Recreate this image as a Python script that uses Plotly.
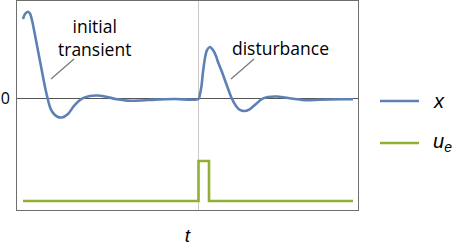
import plotly.graph_objects as go

# initial transient + disturbance response of x
t_x = [0.0, 0.2, 0.5, 0.7, 0.9, 1.2, 1.5, 1.8, 2.1, 2.4, 2.7, 3.0, 3.4, 3.9, 4.5, 5.1, 5.9, 6.7, 7.4, 8.2,
       9.4, 10.4, 11.7, 13.2, 15.2, 17.55, 17.7, 17.85, 18.0, 18.2, 18.4, 18.7, 19.0, 19.3, 19.5, 19.9,
       20.37, 20.87, 21.3, 21.7, 22.2, 22.7, 23.3, 23.87, 24.5, 25.37, 26.2, 27.2, 28.2, 29.7, 31.7, 33.0]
x_vals = [0.914, 0.971, 0.998, 0.975, 0.90, 0.73, 0.55, 0.37, 0.19, 0.03, -0.10, -0.165, -0.207, -0.218,
          -0.178, -0.086, -0.002, 0.029, 0.034, 0.023, -0.009, -0.024, -0.023, -0.013, -0.006, -0.006,
          0.052, 0.144, 0.305, 0.466, 0.557, 0.592, 0.557, 0.489, 0.42, 0.305, 0.155, 0.002, -0.086,
          -0.132, -0.144, -0.121, -0.063, -0.006, 0.017, 0.023, 0.011, -0.006, -0.02, -0.015, -0.009, -0.008]

# disturbance input u_e (drawn offset below)
t_u = [0.0, 17.55, 17.55, 18.6, 18.6, 33.0]
u_vals = [-1.178, -1.178, -0.718, -0.718, -1.178, -1.178]

disturbance_time = 17.55

# callout labels
label_text = ["initial<br>transient", "disturbance"]
label_t = [7.1, 25.75]
label_y = [0.705, 0.575]
pointer_t0 = [2.8, 20.8]
pointer_y0 = [0.224, 0.224]
pointer_t1 = [5.1, 23.1]
pointer_y1 = [0.454, 0.454]

BLUE = "#5E81B5"
GREEN = "#8FB032"
TEXT_FONT = "Open Sans"

fig = go.Figure()
fig.add_trace(go.Scatter(x=t_x, y=x_vals, mode="lines", name="x",
                         line=dict(color=BLUE, width=2.6, shape="spline", smoothing=0.8),
                         showlegend=False))
fig.add_trace(go.Scatter(x=t_u, y=u_vals, mode="lines", name="u_e",
                         line=dict(color=GREEN, width=2.6), showlegend=False))

shapes = []
for a, b, c, d in zip(pointer_t0, pointer_y0, pointer_t1, pointer_y1):
    shapes.append(dict(type="line", xref="x", yref="y", x0=a, y0=b, x1=c, y1=d,
                       line=dict(color="#7a7a7a", width=1.3)))
# manual legend
leg_y = [0.5215, 0.3206]
leg_col = [BLUE, GREEN]
leg_txt = ["<i>x</i>", "<i>u<sub>e</sub></i>"]
for yy, cc in zip(leg_y, leg_col):
    shapes.append(dict(type="line", xref="paper", yref="paper", x0=1.0645, x1=1.179, y0=yy, y1=yy,
                       line=dict(color=cc, width=2.6)))

annotations = []
for txt, tt, yy in zip(label_text, label_t, label_y):
    annotations.append(dict(x=tt, y=yy, xref="x", yref="y", text=txt, showarrow=False,
                            font=dict(family=TEXT_FONT, size=17.5, color="black"),
                            xanchor="center", yanchor="middle"))
for yy, txt in zip(leg_y, leg_txt):
    annotations.append(dict(x=1.213, y=yy, xref="paper", yref="paper", text=txt, showarrow=False,
                            font=dict(family="Liberation Sans", size=20, color="black"),
                            xanchor="left", yanchor="middle"))

fig.update_layout(
    width=466, height=248,
    margin=dict(l=17, r=108, t=1, b=38),
    plot_bgcolor="white", paper_bgcolor="white",
    shapes=shapes, annotations=annotations,
    xaxis=dict(range=[-0.6, 33.5], tickvals=[disturbance_time], showticklabels=False,
               showgrid=True, gridcolor="#c8c8c8", gridwidth=1, zeroline=False,
               showline=True, mirror=True, linecolor="#6e6e6e", linewidth=1, ticks="",
               automargin=False,
               title=dict(text="<i>t</i>", font=dict(family="Liberation Sans", size=19, color="black"),
                          standoff=18)),
    yaxis=dict(range=[-1.282, 1.121], tickvals=[0], ticktext=["0"], showgrid=False,
               zeroline=True, zerolinecolor="#555555", zerolinewidth=1,
               showline=True, mirror=True, linecolor="#6e6e6e", linewidth=1, ticks="",
               ticklabelstandoff=3, automargin=False,
               tickfont=dict(family=TEXT_FONT, size=16, color="black")),
)

fig.write_html("out.html")
